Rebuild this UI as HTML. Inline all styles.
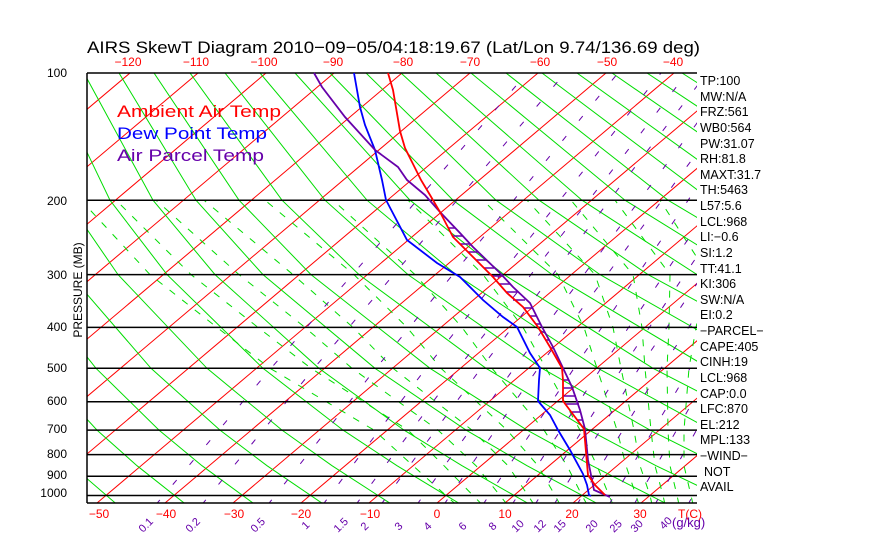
<!DOCTYPE html>
<html><head><meta charset="utf-8">
<style>
html,body{margin:0;padding:0;background:#fff;}
svg{display:block;font-family:"Liberation Sans",sans-serif;}
</style></head>
<body>
<svg width="870" height="560" xmlns="http://www.w3.org/2000/svg">
<defs><clipPath id="c"><rect x="87" y="73" width="610" height="430"/></clipPath></defs>
<rect width="870" height="560" fill="#fff"/>
<g clip-path="url(#c)" fill="none">
<g stroke="#f00" stroke-width="1">
<line x1="-379" y1="503" x2="130" y2="73"/><line x1="-311" y1="503" x2="198" y2="73"/>
<line x1="-243" y1="503" x2="266" y2="73"/><line x1="-175" y1="503" x2="334" y2="73"/>
<line x1="-107" y1="503" x2="402" y2="73"/><line x1="-39" y1="503" x2="470" y2="73"/>
<line x1="29" y1="503" x2="538" y2="73"/><line x1="97" y1="503" x2="606" y2="73"/>
<line x1="165" y1="503" x2="674" y2="73"/><line x1="233" y1="503" x2="742" y2="73"/>
<line x1="301" y1="503" x2="810" y2="73"/><line x1="369" y1="503" x2="878" y2="73"/>
<line x1="437" y1="503" x2="946" y2="73"/><line x1="505" y1="503" x2="1014" y2="73"/>
<line x1="573" y1="503" x2="1082" y2="73"/><line x1="641" y1="503" x2="1150" y2="73"/>
</g>
<g stroke="#0d0" stroke-width="1">
<polyline points="117,504.5 72,465.7 36,430.1 -16,368.3 -74,274.6 -105,200.2 -127,73"/>
<polyline points="186,504.5 137,465.7 97,430.1 40,368.3 -26,274.6 -62,200.2 -92,73"/>
<polyline points="255,504.5 202,465.7 159,430.1 96,368.3 22,274.6 -19,200.2 -57,73"/>
<polyline points="324,504.5 267,465.7 220,430.1 151,368.3 70,274.6 24,200.2 -22,73"/>
<polyline points="392,504.5 332,465.7 282,430.1 207,368.3 118,274.6 67,200.2 14,73"/>
<polyline points="461,504.5 397,465.7 343,430.1 263,368.3 167,274.6 110,200.2 49,73"/>
<polyline points="530,504.5 462,465.7 404,430.1 319,368.3 215,274.6 153,200.2 84,73"/>
<polyline points="599,504.5 527,465.7 466,430.1 375,368.3 263,274.6 196,200.2 119,73"/>
<polyline points="668,504.5 592,465.7 527,430.1 430,368.3 311,274.6 239,200.2 154,73"/>
<polyline points="737,504.5 656,465.7 589,430.1 486,368.3 359,274.6 282,200.2 190,73"/>
<polyline points="806,504.5 721,465.7 650,430.1 542,368.3 408,274.6 325,200.2 225,73"/>
<polyline points="875,504.5 786,465.7 711,430.1 598,368.3 456,274.6 367,200.2 260,73"/>
<polyline points="944,504.5 851,465.7 773,430.1 653,368.3 504,274.6 410,200.2 295,73"/>
<polyline points="916,465.7 834,430.1 709,368.3 552,274.6 453,200.2 330,73"/>
<polyline points="896,430.1 765,368.3 600,274.6 496,200.2 366,73"/>
<polyline points="821,368.3 648,274.6 539,200.2 401,73"/>
<polyline points="876,368.3 697,274.6 582,200.2 436,73"/>
<polyline points="745,274.6 625,200.2 471,73"/>
<polyline points="793,274.6 668,200.2 506,73"/>
<polyline points="841,274.6 711,200.2 542,73"/>
<polyline points="754,200.2 577,73"/>
<polyline points="796,200.2 612,73"/>
<polyline points="839,200.2 647,73"/>
<polyline points="882,200.2 682,73"/>
<polyline points="925,200.2 718,73"/>
</g>
<g stroke="#0d0" stroke-width="1" stroke-dasharray="7,9">
<polyline points="456,504.5 446,495.5 413,465.7 374,430.1 270,368.3 217,327.4 150,274.6 81,200.2"/>
<polyline points="482,504.5 473,495.5 444,465.7 408,430.1 311,368.3 258,327.4 191,274.6 116,200.2"/>
<polyline points="507,504.5 500,495.5 476,465.7 438,430.1 352,368.3 305,327.4 239,274.6 156,200.2"/>
<polyline points="534,504.5 528,495.5 508,465.7 472,430.1 393,368.3 353,327.4 293,274.6 204,200.2"/>
<polyline points="560,504.5 555,495.5 538,465.7 507,430.1 441,368.3 407,327.4 354,274.6 265,200.2"/>
<polyline points="587,504.5 582,495.5 567,465.7 544,430.1 492,368.3 462,327.4 415,274.6 333,200.2"/>
<polyline points="613,504.5 609,495.5 597,465.7 580,430.1 546,368.3 523,327.4 483,274.6 408,200.2"/>
<polyline points="639,504.5 636,495.5 626,465.7 617,430.1 597,368.3 584,327.4 558,274.6 483,200.2"/>
<polyline points="652,504.5 650,495.5 640,465.7 634,430.1 621,368.3 613,327.4 595,274.6 527,200.2"/>
<polyline points="665,504.5 663,495.5 655,465.7 651,430.1 645,368.3 642,327.4 633,274.6 571,200.2"/>
<polyline points="679,504.5 677,495.5 670,465.7 668,430.1 667,368.3 669,327.4 670,274.6 615,200.2"/>
<polyline points="693,504.5 691,495.5 684,465.7 684,430.1 689,368.3 696,327.4 708,274.6 660,200.2"/>
</g>
<g stroke="#60a" stroke-width="1" stroke-dasharray="6,20">
<polyline points="156,504.5 271,368.3 463,147.4 527,73"/>
<polyline points="202,504.5 314,368.3 502,147.4 565,73"/>
<polyline points="268,504.5 376,368.3 557,147.4 618,73"/>
<polyline points="323,504.5 426,368.3 602,147.4 661,73"/>
<polyline points="356,504.5 458,368.3 630,147.4 687,73"/>
<polyline points="381,504.5 481,368.3 650,147.4 707,73"/>
<polyline points="417,504.5 514,368.3 679,147.4 734,73"/>
<polyline points="444,504.5 538,368.3 701,147.4"/>
<polyline points="483,504.5 574,368.3 724,147.4"/>
<polyline points="512,504.5 601,368.3 750,147.4"/>
<polyline points="535,504.5 622,368.3 770,147.4"/>
<polyline points="554,504.5 639,368.3 790,147.4"/>
<polyline points="577,504.5 661,368.3 810,147.4"/>
<polyline points="609,504.5 690,368.3"/>
<polyline points="634,504.5 712,368.3"/>
<polyline points="655,504.5 731,368.3"/>
<polyline points="688,504.5 762,368.3"/>
</g>
</g>
<g stroke="#000" stroke-width="1.5">
<line x1="87" y1="73" x2="697" y2="73"/><line x1="87" y1="200.2" x2="697" y2="200.2"/>
<line x1="87" y1="274.6" x2="697" y2="274.6"/><line x1="87" y1="327.4" x2="697" y2="327.4"/>
<line x1="87" y1="368.3" x2="697" y2="368.3"/><line x1="87" y1="401.8" x2="697" y2="401.8"/>
<line x1="87" y1="430.1" x2="697" y2="430.1"/><line x1="87" y1="454.6" x2="697" y2="454.6"/>
<line x1="87" y1="476.2" x2="697" y2="476.2"/><line x1="87" y1="495.5" x2="697" y2="495.5"/>
<line x1="87" y1="503" x2="697" y2="503"/><line x1="87" y1="73" x2="87" y2="503"/>
</g>
<g stroke="#60a" stroke-width="1.5">
<line x1="448" y1="228" x2="455" y2="228"/><line x1="452" y1="236" x2="463" y2="236"/>
<line x1="460" y1="244" x2="470" y2="244"/><line x1="468" y1="252" x2="478" y2="252"/>
<line x1="476" y1="260" x2="486" y2="260"/><line x1="484" y1="268" x2="494" y2="268"/>
<line x1="492" y1="276" x2="503" y2="276"/><line x1="499" y1="284" x2="510" y2="284"/>
<line x1="506" y1="292" x2="518" y2="292"/><line x1="513" y1="300" x2="525" y2="300"/>
<line x1="524" y1="308" x2="533" y2="308"/><line x1="530" y1="316" x2="537" y2="316"/>
<line x1="536" y1="324" x2="541" y2="324"/><line x1="541" y1="332" x2="545" y2="332"/>
<line x1="545" y1="340" x2="549" y2="340"/><line x1="551" y1="348" x2="554" y2="348"/>
<line x1="562" y1="380" x2="569" y2="380"/><line x1="563" y1="388" x2="572" y2="388"/>
<line x1="563" y1="396" x2="576" y2="396"/><line x1="566" y1="404" x2="579" y2="404"/>
<line x1="572" y1="412" x2="581" y2="412"/><line x1="577" y1="420" x2="583" y2="420"/>
</g>
<g fill="none" stroke-width="1.8">
<polyline stroke="#00f" points="354,73 360,107 365,125 375,150 382,180 386,200 407,240 437,263 460,277 483,300 503,317 517,327 530,353 540,368 539,380 538,401 550,415 558,430 570,450 583,474 587,485 589,495 591,496"/>
<polyline stroke="#60a" points="314,73 322,87 345,117 375,150 398,167 407,180 425,195 440,212 460,233 473,247 500,273 513,287 530,303 542,327 553,347 563,368 572,387 580,410 585,429 588,460 591,475 594,490 610,497"/>
<polyline stroke="#f00" points="388,73 393,90 400,131 405,148 412,162 421,180 430,195 440,212 453,237 463,247 493,277 507,293 523,307 538,327 550,347 562,368 563,380 563,401 584,429 586,452 588,475 595,485 605,495"/>
</g>
<text x="87" y="53" font-size="17" fill="#000" textLength="613" lengthAdjust="spacingAndGlyphs">AIRS SkewT Diagram 2010−09−05/04:18:19.67 (Lat/Lon 9.74/136.69 deg)</text>
<g font-size="12" fill="#f00" text-anchor="middle">
<text x="128" y="66">−120</text><text x="196" y="66">−110</text><text x="264" y="66">−100</text>
<text x="333" y="66">−90</text><text x="403" y="66">−80</text><text x="470" y="66">−70</text>
<text x="540" y="66">−60</text><text x="607" y="66">−50</text><text x="673" y="66">−40</text>
<text x="99" y="518">−50</text><text x="166" y="518">−40</text><text x="234" y="518">−30</text>
<text x="301" y="518">−20</text><text x="370" y="518">−10</text><text x="437" y="518">0</text>
<text x="505" y="518">10</text><text x="572" y="518">20</text><text x="640" y="518">30</text>
<text x="690" y="518">T(C)</text>
</g>
<g font-size="12" fill="#000" text-anchor="end">
<text x="67" y="77">100</text><text x="67" y="205">200</text><text x="67" y="279">300</text>
<text x="67" y="331">400</text><text x="67" y="372">500</text><text x="67" y="405">600</text>
<text x="67" y="433">700</text><text x="67" y="458">800</text><text x="67" y="479">900</text>
<text x="67" y="497">1000</text>
</g>
<text transform="translate(82,290) rotate(-90)" font-size="12" text-anchor="middle" fill="#000">PRESSURE (MB)</text>
<g font-size="17">
<text x="117" y="117" fill="#f00" textLength="164" lengthAdjust="spacingAndGlyphs">Ambient Air Temp</text>
<text x="117" y="139" fill="#00f" textLength="150" lengthAdjust="spacingAndGlyphs">Dew Point Temp</text>
<text x="117" y="161" fill="#60a" textLength="147" lengthAdjust="spacingAndGlyphs">Air Parcel Temp</text>
</g>
<g font-size="11" fill="#60a">
<text transform="translate(143,533) rotate(-45)">0.1</text>
<text transform="translate(190,533) rotate(-45)">0.2</text>
<text transform="translate(255,533) rotate(-45)">0.5</text>
<text transform="translate(306,530) rotate(-45)">1</text>
<text transform="translate(338,533) rotate(-45)">1.5</text>
<text transform="translate(365,531) rotate(-45)">2</text>
<text transform="translate(399,531) rotate(-45)">3</text>
<text transform="translate(428,531) rotate(-45)">4</text>
<text transform="translate(463,531) rotate(-45)">6</text>
<text transform="translate(493,531) rotate(-45)">8</text>
<text transform="translate(516,533) rotate(-45)">10</text>
<text transform="translate(538,533) rotate(-45)">12</text>
<text transform="translate(558,533) rotate(-45)">15</text>
<text transform="translate(590,533) rotate(-45)">20</text>
<text transform="translate(614,533) rotate(-45)">25</text>
<text transform="translate(635,533) rotate(-45)">30</text>
<text transform="translate(664,530) rotate(-45)">40</text>
<text x="672" y="527" font-size="13">(g/kg)</text>
</g>
<g font-size="12.5" fill="#000">
<text x="700" y="85">TP:100</text><text x="700" y="101">MW:N/A</text><text x="700" y="116">FRZ:561</text>
<text x="700" y="132">WB0:564</text><text x="700" y="148">PW:31.07</text><text x="700" y="163">RH:81.8</text>
<text x="700" y="179">MAXT:31.7</text><text x="700" y="194">TH:5463</text><text x="700" y="210">L57:5.6</text>
<text x="700" y="226">LCL:968</text><text x="700" y="241">LI:−0.6</text><text x="700" y="257">SI:1.2</text>
<text x="700" y="273">TT:41.1</text><text x="700" y="288">KI:306</text><text x="700" y="304">SW:N/A</text>
<text x="700" y="319">EI:0.2</text><text x="700" y="335">−PARCEL−</text><text x="700" y="351">CAPE:405</text>
<text x="700" y="366">CINH:19</text><text x="700" y="382">LCL:968</text><text x="700" y="398">CAP:0.0</text>
<text x="700" y="413">LFC:870</text><text x="700" y="429">EL:212</text><text x="700" y="444">MPL:133</text>
<text x="700" y="460">−WIND−</text><text x="704" y="476">NOT</text><text x="700" y="491">AVAIL</text>
</g>
</svg>
</body></html>
